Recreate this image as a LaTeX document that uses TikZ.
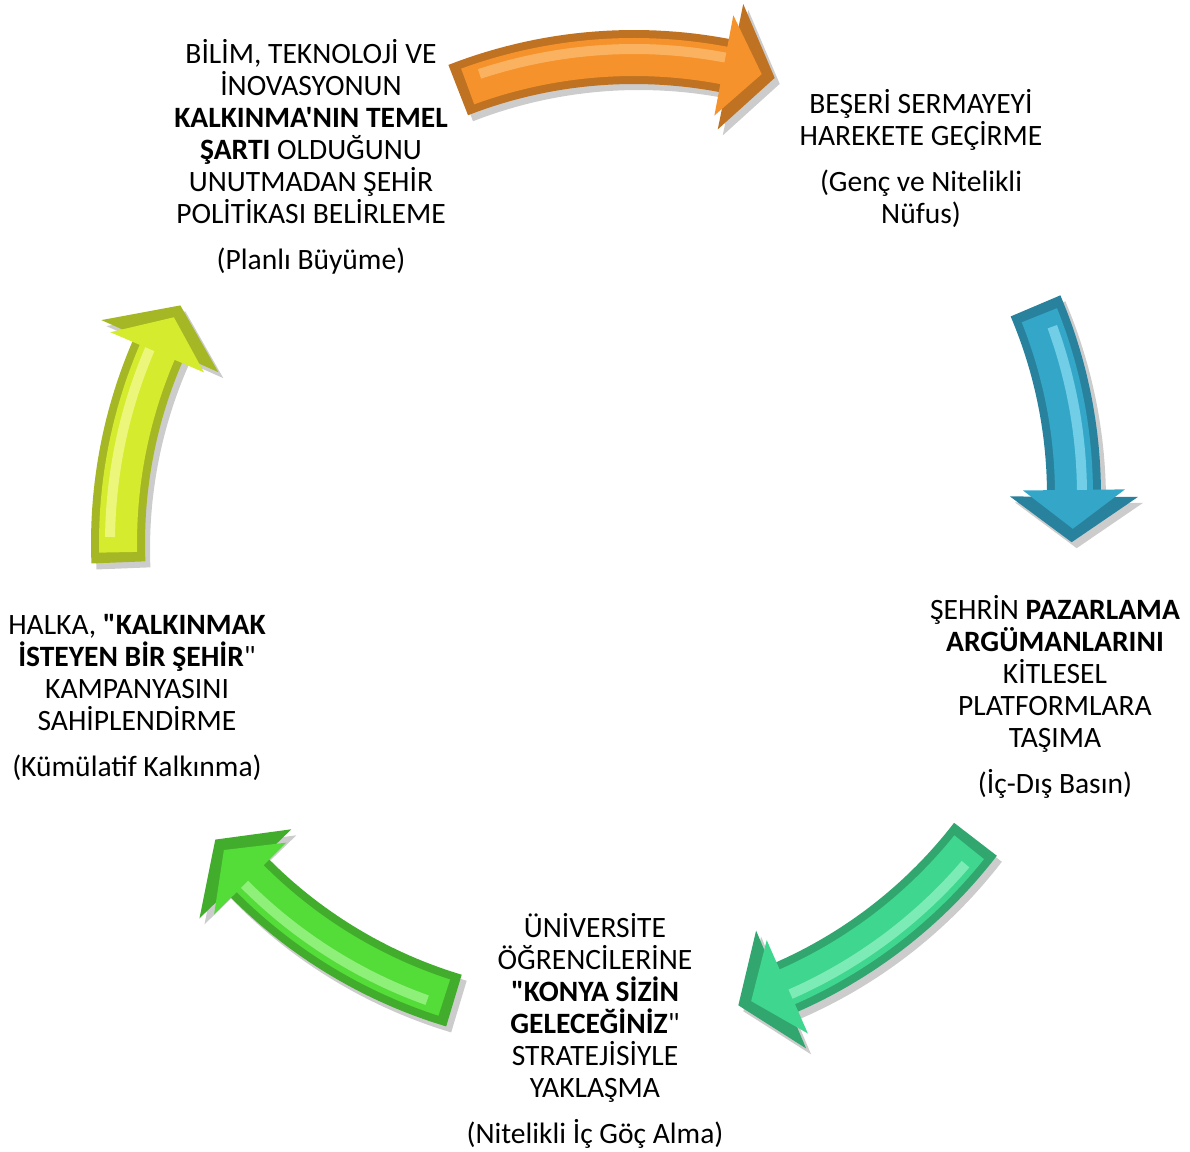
\documentclass[tikz,border=0pt]{standalone}
\usepackage{fontspec}
\newfontfamily\cycfont{Carlito}
\usepackage{xcolor}
\definecolor{arrow-orange}{HTML}{F5922B}
\definecolor{light-orange}{HTML}{FDBE72}
\definecolor{arrow-blue}{HTML}{34A7C9}
\definecolor{light-blue}{HTML}{86DCF0}
\definecolor{arrow-teal}{HTML}{3FD68F}
\definecolor{light-teal}{HTML}{92F3C4}
\definecolor{arrow-green}{HTML}{54DD38}
\definecolor{light-green}{HTML}{A2F690}
\definecolor{arrow-yellow}{HTML}{D4EB2E}
\definecolor{light-yellow}{HTML}{F3FB94}

\newcommand{\cycarrow}[5]{%
  \pgfmathsetmacro{\arrtail}{#2}
  \pgfmathsetmacro{\arrtip}{#3}
  \pgfmathsetmacro{\arrbase}{#3+5.4}
  \pgfmathsetmacro{\intail}{#2-1.2}
  \pgfmathsetmacro{\inbase}{#3+6.2}
  \pgfmathsetmacro{\intip}{#3+1.6}
  \pgfmathsetmacro{\hitail}{#2-3}
  \begin{scope}[shift={#1}]
    \fill[black, opacity=.2, shift={(5,-6)}] (\arrtail:511) -- plot[domain=\arrtail:\arrbase, samples=30] (\x:511)
      -- (\arrbase:548) -- (\arrtip:484) -- (\arrbase:420) -- plot[domain=\arrbase:\arrtail, samples=30] (\x:457) -- cycle;
    \fill[#4!78!black] (\arrtail:511) -- plot[domain=\arrtail:\arrbase, samples=30] (\x:511)
      -- (\arrbase:548) -- (\arrtip:484) -- (\arrbase:420) -- plot[domain=\arrbase:\arrtail, samples=30] (\x:457) -- cycle;
    \fill[#4] (\intail:503) -- plot[domain=\intail:\inbase, samples=30] (\x:503)
      -- (\inbase:535) -- (\intip:484) -- (\inbase:433) -- plot[domain=\inbase:\intail, samples=30] (\x:465) -- cycle;
    \fill[#5, opacity=.75] (\hitail:497) -- plot[domain=\hitail:\inbase, samples=30] (\x:497)
      -- plot[domain=\inbase:\hitail, samples=30] (\x:487) -- cycle;
  \end{scope}
}

\begin{document}
\begin{tikzpicture}[x=0.025cm, y=0.025cm,
      every node/.style={font=\cycfont\fontsize{21}{22.8}\selectfont, align=center, inner sep=0pt}]
    \useasboundingbox (0,0) rectangle (1190,1151);
    \cycarrow{(634,610)}{111.3}{73.1}{arrow-orange}{light-orange}
    \cycarrow{(590,656)}{23}{-5.6}{arrow-blue}{light-blue}
    \cycarrow{(592,607)}{-37.6}{-72.4}{arrow-teal}{light-teal}
    \cycarrow{(593,614)}{-106.7}{-141.3}{arrow-green}{light-green}
    \cycarrow{(602,608)}{182.3}{150.6}{arrow-yellow}{light-yellow}
    \node[anchor=north] (plan) at (311,1112) {BİLİM, TEKNOLOJİ VE\\ İNOVASYONUN\\ \textbf{KALKINMA'NIN TEMEL}\\ \textbf{ŞARTI} OLDUĞUNU\\ UNUTMADAN ŞEHİR\\ POLİTİKASI BELİRLEME\\[0.35cm] (Planlı Büyüme)};
    \node[anchor=north] (beseri) at (921,1062) {BEŞERİ SERMAYEYİ\\ HAREKETE GEÇİRME\\[0.35cm] (Genç ve Nitelikli\\ Nüfus)};
    \node[anchor=north] (pazar) at (1055,556) {ŞEHRİN \textbf{PAZARLAMA}\\ \textbf{ARGÜMANLARINI}\\ KİTLESEL\\ PLATFORMLARA\\ TAŞIMA\\[0.35cm] (İç-Dış Basın)};
    \node[anchor=north] (univ) at (595,238) {ÜNİVERSİTE\\ ÖĞRENCİLERİNE\\ \textbf{"KONYA SİZİN}\\ \textbf{GELECEĞİNİZ}"\\ STRATEJİSİYLE\\ YAKLAŞMA\\[0.35cm] (Nitelikli İç Göç Alma)};
    \node[anchor=north] (halka) at (137,537) {HALKA, \textbf{"KALKINMAK}\\ \textbf{İSTEYEN BİR ŞEHİR}"\\ KAMPANYASINI\\ SAHİPLENDİRME\\[0.35cm] (Kümülatif Kalkınma)};
  \end{tikzpicture}
\end{document}
